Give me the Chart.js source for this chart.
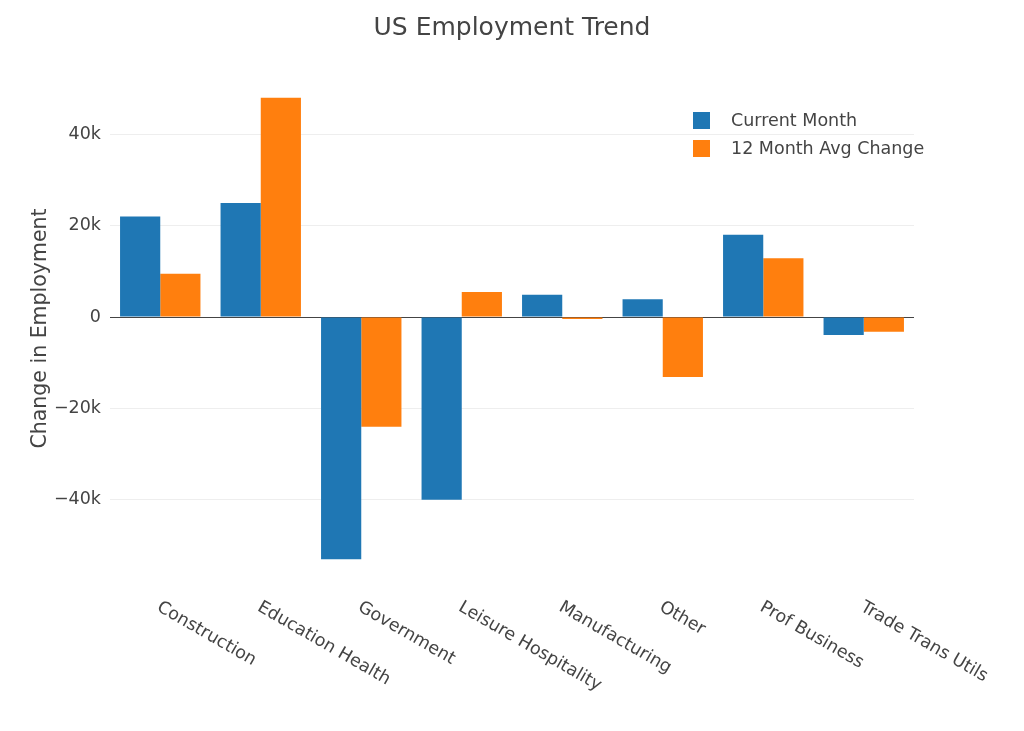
<!DOCTYPE html>
<html lang="en">
<head>
  <meta charset="UTF-8">
  <title>US Employment Trend</title>
  <script src="https://cdn.jsdelivr.net/npm/chart.js"></script>
  <style>
    html, body { margin: 0; padding: 0; background: #fff; }
    #wrap { width: 1024px; height: 731px; position: relative; }
  </style>
</head>
<body>
  <div id="wrap"><canvas id="chart"></canvas></div>

  <script>
    const categories = ['Construction', 'Education Health', 'Government', 'Leisure Hospitality',
                        'Manufacturing', 'Other', 'Prof Business', 'Trade Trans Utils'];
    const currentMonth = [22000, 25000, -53000, -40000, 4900, 3900, 18000, -3900];
    const avgChange12  = [9500, 48000, -24000, 5500, -400, -13100, 12900, -3200];
    const seriesNames  = ['Current Month', '12 Month Avg Change'];
    const yTicks       = [-40000, -20000, 0, 20000, 40000];
    const yTickLabels  = ['\u221240k', '\u221220k', '0', '20k', '40k'];
    const chartTitle   = 'US Employment Trend';

    const FONT = '"DejaVu Sans", Verdana, sans-serif';
    const BLUE = '#1f77b4', ORANGE = '#ff7f0e', TEXT = '#444';

    // title, rotated category labels and legend, drawn plotly-style
    const extras = {
      id: 'extras',
      afterDraw(chart) {
        const ctx = chart.ctx, xs = chart.scales.x, area = chart.chartArea;
        ctx.save();
        ctx.fillStyle = TEXT;
        ctx.textBaseline = 'middle';
        ctx.textAlign = 'center';
        ctx.font = '25px ' + FONT;
        ctx.fillText(chartTitle, chart.width / 2, 28);

        ctx.font = '17.5px ' + FONT;
        ctx.textAlign = 'left';
        categories.forEach((c, i) => {
          ctx.save();
          ctx.translate(xs.getPixelForValue(i) - 2, area.bottom + 24);
          ctx.rotate(Math.PI / 6);
          ctx.fillText(c, 0, 0);
          ctx.restore();
        });
        [BLUE, ORANGE].forEach((col, i) => {
          const y = 120 + i * 28;
          ctx.fillStyle = col;
          ctx.fillRect(693, y - 8, 17, 17);
          ctx.fillStyle = TEXT;
          ctx.fillText(seriesNames[i], 731, y + 1);
        });
        ctx.restore();
      }
    };

    new Chart(document.getElementById('chart'), {
      type: 'bar',
      data: {
        labels: categories,
        datasets: [
          { label: seriesNames[0], data: currentMonth, backgroundColor: BLUE },
          { label: seriesNames[1], data: avgChange12, backgroundColor: ORANGE }
        ]
      },
      options: {
        responsive: true,
        maintainAspectRatio: false,
        animation: false,
        layout: { padding: { left: 0, right: 110, top: 75, bottom: 141 } },
        datasets: { bar: { categoryPercentage: 0.8, barPercentage: 1.0, borderWidth: 0 } },
        plugins: {
          legend: { display: false },
          tooltip: { enabled: false },
          title: { display: false }
        },
        scales: {
          x: {
            grid: { display: false },
            border: { display: false },
            ticks: { display: false }
          },
          y: {
            min: -58000,
            max: 53000,
            afterBuildTicks(scale) { scale.ticks = yTicks.map(v => ({ value: v })); },
            afterFit(scale) { scale.width = 110; },
            border: { display: false },
            grid: {
              drawTicks: false,
              color: c => c.tick && c.tick.value === 0 ? '#444' : '#eee',
              lineWidth: 1
            },
            ticks: {
              color: TEXT,
              padding: 9,
              font: { family: FONT, size: 17.5 },
              callback: (v) => yTickLabels[yTicks.indexOf(v)]
            },
            title: {
              display: true,
              text: 'Change in Employment',
              color: TEXT,
              font: { family: FONT, size: 20.5 },
              padding: { top: 28, bottom: 0 }
            }
          }
        }
      },
      plugins: [extras]
    });
  </script>
</body>
</html>
